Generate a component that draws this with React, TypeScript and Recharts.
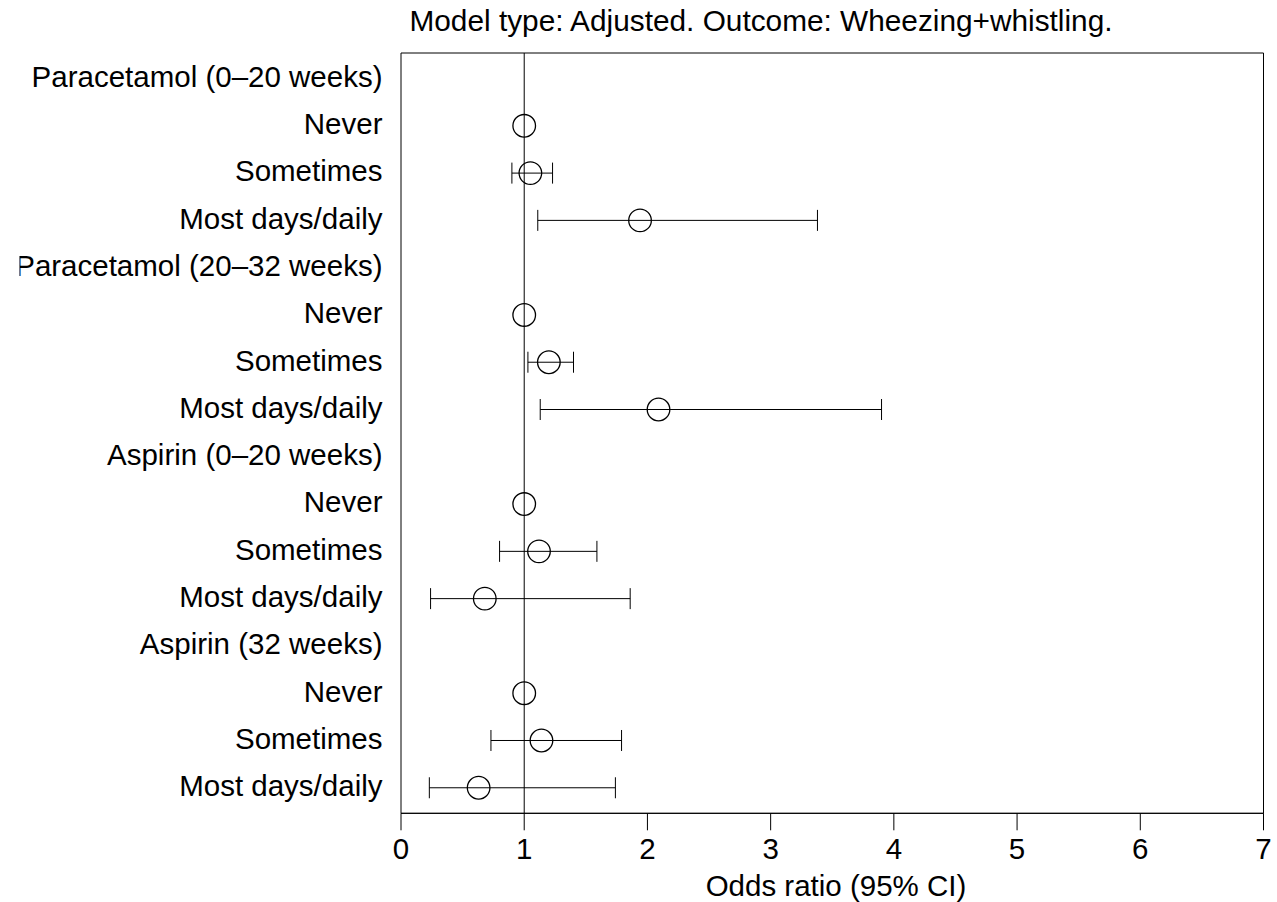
import React from "react";
import {
  ScatterChart,
  Scatter,
  XAxis,
  YAxis,
  ErrorBar,
  ReferenceLine,
  ReferenceArea,
} from "recharts";

const FONT = "'Liberation Sans', Arial, Helvetica, sans-serif";
const FS = 29.5;
const TITLE_FS = 29.8;

// row labels, top to bottom
const LABELS = [
  "Paracetamol (0\u201320 weeks)",
  "Never",
  "Sometimes",
  "Most days/daily",
  "Paracetamol (20\u201332 weeks)",
  "Never",
  "Sometimes",
  "Most days/daily",
  "Aspirin (0\u201320 weeks)",
  "Never",
  "Sometimes",
  "Most days/daily",
  "Aspirin (32 weeks)",
  "Never",
  "Sometimes",
  "Most days/daily",
];

// odds ratios and 95% CI (null = heading row / reference without CI)
const OR = [null, 1, 1.05, 1.94, null, 1, 1.2, 2.09, null, 1, 1.12, 0.68, null, 1, 1.14, 0.63];
const LOWER = [null, null, 0.9, 1.11, null, null, 1.03, 1.13, null, null, 0.8, 0.24, null, null, 0.73, 0.23];
const UPPER = [null, null, 1.23, 3.38, null, null, 1.4, 3.9, null, null, 1.59, 1.86, null, null, 1.79, 1.74];

const X_TICKS = [0, 1, 2, 3, 4, 5, 6, 7];
const Y_MIN = -0.54;
const Y_MAX = 15.54;
const CLIP_LEFT = 19.5; // labels are cut at the figure edge, as in the original

const refPoints = OR.map((v, i) => ({ row: i, or: v, lo: LOWER[i] }))
  .filter((d) => d.or != null && d.lo == null)
  .map((d) => ({ row: d.row, or: d.or }));

const ciPoints = OR.map((v, i) => ({ row: i, or: v, lo: LOWER[i], hi: UPPER[i] }))
  .filter((d) => d.or != null && d.lo != null)
  .map((d) => ({
    row: d.row,
    or: d.or as number,
    err: [(d.or as number) - (d.lo as number), (d.hi as number) - (d.or as number)],
  }));

const Ring = (props: any) => (
  <circle cx={props.cx} cy={props.cy} r={11.3} fill="none" stroke="#000" strokeWidth={1.3} />
);

const RowTick = (props: any) => {
  const { x, y, payload } = props;
  return (
    <svg x={CLIP_LEFT} y={y - 25} width={x - CLIP_LEFT + 6} height={50} overflow="hidden">
      <text
        x={x - CLIP_LEFT}
        y={25}
        dy={8.4}
        textAnchor="end"
        fill="#000"
        fontSize={FS}
        fontFamily={FONT}
      >
        {LABELS[payload.value]}
      </text>
    </svg>
  );
};

export default function App() {
  return (
    <div
      style={{
        position: "absolute",
        left: 0,
        top: 0,
        width: 1277,
        height: 902,
        background: "#fff",
        fontFamily: FONT,
      }}
    >
      <div
        style={{
          position: "absolute",
          left: 261,
          width: 1000,
          top: 6,
          textAlign: "center",
          fontSize: TITLE_FS,
          lineHeight: `${TITLE_FS}px`,
          color: "#000",
        }}
      >
        Model type: Adjusted. Outcome: Wheezing+whistling.
      </div>
      <ScatterChart
        width={1277}
        height={902}
        margin={{ top: 53, right: 13.5, bottom: 0, left: 0 }}
      >
        <XAxis
          type="number"
          dataKey="or"
          domain={[0, 7]}
          ticks={X_TICKS}
          allowDataOverflow
          height={88.7}
          tickSize={17}
          tickMargin={8}
          stroke="#000"
          tick={{ fill: "#000", fontSize: FS, fontFamily: FONT }}
        />
        <YAxis
          type="number"
          dataKey="row"
          domain={[Y_MIN, Y_MAX]}
          ticks={LABELS.map((_, i) => i)}
          reversed
          allowDataOverflow
          width={401}
          axisLine={false}
          tickLine={false}
          tickSize={0}
          tickMargin={18.5}
          interval={0}
          tick={<RowTick />}
        />
        <ReferenceArea
          x1={0}
          x2={7}
          y1={Y_MIN}
          y2={Y_MAX}
          fill="none"
          stroke="#000"
          strokeWidth={1}
          ifOverflow="visible"
        />
        <ReferenceLine x={1} stroke="#000" strokeWidth={1} />
        <Scatter data={refPoints} shape={<Ring />} isAnimationActive={false} />
        <Scatter data={ciPoints} shape={<Ring />} isAnimationActive={false}>
          <ErrorBar dataKey="err" direction="x" width={10.5} stroke="#000" strokeWidth={1} />
        </Scatter>
      </ScatterChart>
      <div
        style={{
          position: "absolute",
          left: 336,
          width: 1000,
          top: 871,
          textAlign: "center",
          fontSize: FS,
          lineHeight: `${FS}px`,
          color: "#000",
        }}
      >
        Odds ratio (95% CI)
      </div>
    </div>
  );
}
